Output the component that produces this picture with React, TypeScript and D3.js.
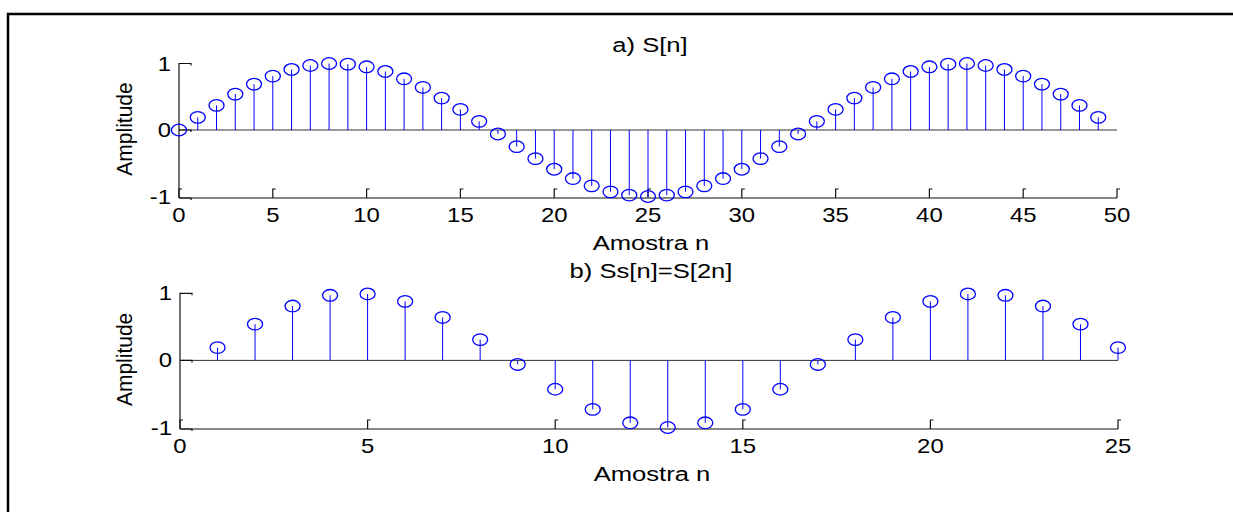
import React from "react";
import * as d3 from "d3";

// Sampled sinusoid S[n], n = 0..49
const nTop: number[] = d3.range(0, 50);
const sTop: number[] = [
  0, 0.19, 0.37, 0.54, 0.69, 0.81, 0.91, 0.97, 1.0, 0.99,
  0.95, 0.88, 0.77, 0.64, 0.48, 0.31, 0.13, -0.06, -0.25, -0.43,
  -0.59, -0.73, -0.84, -0.93, -0.98, -1.0, -0.98, -0.93, -0.84, -0.73,
  -0.59, -0.43, -0.25, -0.06, 0.13, 0.31, 0.48, 0.64, 0.77, 0.88,
  0.95, 0.99, 1.0, 0.97, 0.91, 0.81, 0.69, 0.54, 0.37, 0.19,
];

// Decimated sequence Ss[n], n = 1..25
const nBottom: number[] = d3.range(1, 26);
const sBottom: number[] = [
  0.19, 0.54, 0.81, 0.97, 0.99, 0.88, 0.64, 0.31, -0.06, -0.43,
  -0.73, -0.93, -1.0, -0.93, -0.73, -0.43, -0.06, 0.31, 0.64, 0.88,
  0.99, 0.97, 0.81, 0.54, 0.19,
];

const xTicksTop: number[] = [0, 5, 10, 15, 20, 25, 30, 35, 40, 45, 50];
const xTicksBottom: number[] = [0, 5, 10, 15, 20, 25];
const yTicks: number[] = [-1, 0, 1];

const titleTop = "a) S[n]";
const titleBottom = "b) Ss[n]=S[2n]";
const xLabel = "Amostra n";
const yLabel = "Amplitude";

const FONT = "'Liberation Sans', Arial, Helvetica, sans-serif";
const STRETCH = 1.22;
const BLUE = "#0000ff";

type PanelProps = {
  ns: number[];
  vals: number[];
  xDomain: [number, number];
  xTicks: number[];
  x0: number;
  x1: number;
  yTop: number;
  yBottom: number;
  title: string;
  titleY: number;
};

function Panel({ ns, vals, xDomain, xTicks, x0, x1, yTop, yBottom, title, titleY }: PanelProps) {
  const x = d3.scaleLinear().domain(xDomain).range([x0, x1]);
  const y = d3.scaleLinear().domain([-1, 1]).range([yBottom, yTop]);
  const axisY = y(-1) + 1.5;
  const cx = (x0 + x1) / 2 + 2;
  return (
    <g>
      {/* title */}
      <text
        transform={`translate(${cx},${titleY}) scale(${STRETCH},1)`}
        textAnchor="middle"
        fontSize={21}
        fontFamily={FONT}
        fill="#000"
      >
        {title}
      </text>
      {/* stem baseline */}
      <line x1={x0} x2={x1} y1={y(0)} y2={y(0)} stroke="#333" strokeWidth={1} />
      {/* axes */}
      <line x1={x0} x2={x0} y1={y(1) - 0.5} y2={axisY} stroke="#111" strokeWidth={1.2} />
      <line x1={x0} x2={x1} y1={axisY} y2={axisY} stroke="#111" strokeWidth={1.2} />
      {/* x ticks */}
      {xTicks.map((t) => (
        <g key={`xt${t}`}>
          <path
            d={`M${x(t)},${axisY} V${axisY - 9} H${x(t) + 3}`}
            fill="none"
            stroke="#111"
            strokeWidth={1.2}
          />
          <text
            transform={`translate(${x(t)},${axisY + 24}) scale(${STRETCH * 0.98},1)`}
            textAnchor="middle"
            fontSize={20}
            fontFamily={FONT}
            fill="#000"
          >
            {t}
          </text>
        </g>
      ))}
      {/* y ticks */}
      {yTicks.map((t) => (
        <g key={`yt${t}`}>
          <path
            d={`M${x0},${t === -1 ? axisY : y(t)} H${x0 + 12} V${(t === -1 ? axisY : y(t)) + 2}`}
            fill="none"
            stroke="#111"
            strokeWidth={1.2}
          />
          <text
            transform={`translate(${x0 - 8},${y(t) + 7}) scale(${STRETCH * 0.98},1)`}
            textAnchor="end"
            fontSize={20}
            fontFamily={FONT}
            fill="#000"
          >
            {t}
          </text>
        </g>
      ))}
      {/* stems */}
      {ns.map((n, i) => (
        <g key={`s${n}`}>
          <line x1={x(n)} x2={x(n)} y1={y(0)} y2={y(vals[i])} stroke={BLUE} strokeWidth={1} />
          <ellipse
            cx={x(n)}
            cy={y(vals[i])}
            rx={7.5}
            ry={5.8}
            fill="none"
            stroke={BLUE}
            strokeWidth={1.3}
          />
        </g>
      ))}
      {/* x label */}
      <text
        transform={`translate(${cx + 1},${axisY + 52}) scale(${STRETCH},1)`}
        textAnchor="middle"
        fontSize={21}
        fontFamily={FONT}
        fill="#000"
      >
        {xLabel}
      </text>
      {/* y label */}
      <text
        transform={`translate(132,${y(0) - 1}) scale(1.05,1) rotate(-90)`}
        textAnchor="middle"
        fontSize={21}
        fontFamily={FONT}
        fill="#000"
      >
        {yLabel}
      </text>
    </g>
  );
}

export default function App() {
  return (
    <svg
      width={1233}
      height={512}
      style={{ position: "absolute", left: 0, top: 0, background: "#fff" }}
    >
      <rect x={0} y={0} width={1233} height={512} fill="#fff" />
      {/* figure frame */}
      <rect x={8} y={14} width={1300} height={600} fill="none" stroke="#000" strokeWidth={2.5} />
      <Panel
        ns={nTop}
        vals={sTop}
        xDomain={[0, 50]}
        xTicks={xTicksTop}
        x0={179}
        x1={1117}
        yTop={63.5}
        yBottom={196.5}
        title={titleTop}
        titleY={52}
      />
      <Panel
        ns={nBottom}
        vals={sBottom}
        xDomain={[0, 25]}
        xTicks={xTicksBottom}
        x0={180}
        x1={1118}
        yTop={293.3}
        yBottom={427.5}
        title={titleBottom}
        titleY={278}
      />
    </svg>
  );
}
